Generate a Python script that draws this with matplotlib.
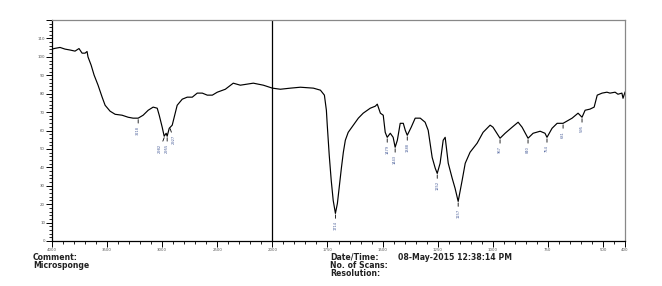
"""FTIR 光谱图 (Microsponge) 复现。"""

import numpy as np
import matplotlib
matplotlib.use("Agg")
import matplotlib.pyplot as plt
from matplotlib.ticker import FixedLocator, NullFormatter

plt.rcParams["font.family"] = ["DejaVu Sans"]

# 光谱数据: 波数 (cm-1) / 透过率 (%T)
WAVENUMBER = [
    4000, 3973, 3927, 3882, 3836, 3791, 3755, 3727, 3700, 3682, 3673, 3645,
    3618, 3582, 3545, 3518, 3473, 3427, 3364, 3309, 3264, 3218, 3173, 3127,
    3082, 3045, 3027, 3000, 2982, 2964, 2955, 2936, 2909, 2891, 2864, 2818,
    2773, 2727, 2682, 2636, 2591, 2545, 2500, 2473, 2427, 2355, 2291, 2173,
    2082, 2000, 1964, 1918, 1873, 1814, 1782, 1764, 1755, 1751, 1742, 1733,
    1724, 1714, 1705, 1696, 1687, 1678, 1669, 1656, 1633, 1610, 1588, 1556,
    1533, 1524, 1510, 1497, 1488, 1479, 1465, 1452, 1443, 1433, 1420, 1406,
    1397, 1388, 1370, 1352, 1329, 1307, 1293, 1275, 1261, 1252, 1239, 1225,
    1216, 1202, 1184, 1171, 1157, 1139, 1125, 1103, 1071, 1044, 1012, 999,
    967, 944, 912, 885, 867, 840, 817, 785, 763, 754, 731, 708, 681, 640,
    613, 595, 581, 559, 540, 526, 504, 482, 468, 445, 432, 414, 409, 400,
]
TRANSMITTANCE = [
    104.2, 104.6, 105.1, 104.2, 103.7, 103.1, 104.5, 102.0, 102.0, 102.9, 99.9, 95.5,
    90.1, 84.6, 78.1, 73.7, 70.5, 68.8, 68.3, 67.2, 66.7, 66.7, 68.3, 71.0,
    72.7, 72.1, 68.3, 61.8, 56.9, 58.5, 56.9, 61.2, 62.9, 67.2, 73.7, 77.0,
    78.1, 78.1, 80.3, 80.3, 79.2, 79.2, 80.8, 81.4, 82.4, 85.7, 84.6, 85.7,
    84.6, 83.0, 82.4, 83.0, 83.5, 83.0, 81.9, 79.2, 71.0, 62.9, 46.5, 32.9,
    22.0, 15.0, 20.4, 30.2, 39.5, 48.2, 54.7, 59.0, 62.9, 66.7, 69.4, 72.1,
    73.2, 74.3, 69.4, 68.3, 59.0, 56.3, 58.5, 56.3, 50.9, 54.7, 63.9, 63.9,
    60.1, 57.4, 61.8, 66.7, 66.7, 64.5, 60.1, 45.4, 39.5, 36.7, 42.2, 54.7,
    56.3, 42.2, 34.0, 28.6, 21.5, 32.9, 42.2, 48.2, 53.1, 59.0, 62.9, 61.8,
    55.8, 58.5, 61.8, 64.5, 61.8, 55.8, 58.5, 59.6, 58.5, 56.3, 61.2, 63.9, 63.9, 66.7,
    69.4, 67.2, 71.0, 71.6, 72.7, 79.2, 80.3, 80.8, 80.3, 80.8, 79.7, 80.3, 77.5, 80.8,
]

# 标注的吸收峰
PEAKS = [3218, 2982, 2955, 2927, 1714, 1479, 1443, 1388, 1252, 1157, 967, 840, 754, 681, 595]
# 重叠的峰标签横向错开 (points)
PEAK_DX = {2982: -3.0, 2955: 0.0, 2927: 2.5}

X_MAJOR = [4000, 3500, 3000, 2500, 2000, 1750, 1500, 1250, 1000, 750, 500, 400]
Y_MAJOR = list(range(0, 121, 10))

INFO_LEFT = ["Comment:", "Microsponge"]
INFO_RIGHT = ["Date/Time:", "No. of Scans:", "Resolution:"]
DATE_STR = "08-May-2015 12:38:14 PM"


def fwd(w):
    w = np.asarray(w, dtype=float)
    return np.where(w >= 2000, 1000 + (w - 2000) / 2, w - 1000)


def inv(u):
    u = np.asarray(u, dtype=float)
    return np.where(u >= 1000, 2000 + 2 * (u - 1000), u + 1000)


def main() -> None:
    fig = plt.figure(figsize=(6.62, 2.86), dpi=100)
    ax = fig.add_axes([52 / 662, 1 - 241 / 286, 573 / 662, 221 / 286])

    ax.set_xscale("function", functions=(fwd, inv))
    ax.plot(WAVENUMBER, TRANSMITTANCE, color="black", lw=0.85)
    ax.axvline(2000, color="black", lw=0.9)
    ax.set_xlim(4000, 400)
    ax.set_ylim(0, 120)

    # 吸收峰标注
    wn = np.array(WAVENUMBER[::-1], dtype=float)
    tr = np.array(TRANSMITTANCE[::-1], dtype=float)
    for p in PEAKS:
        v = np.interp(p, wn, tr)
        ax.annotate(f"{p}", xy=(p, v - 0.8), xytext=(PEAK_DX.get(p, 0.0), -4.5),
                    textcoords="offset points", rotation=90, ha="center", va="top",
                    fontsize=2.6, color="#4a5f9a",
                    arrowprops=dict(arrowstyle="-", lw=0.6, color="black",
                                    shrinkA=0, shrinkB=0))

    # 坐标轴样式
    for side in ("left", "bottom"):
        ax.spines[side].set_color("black")
        ax.spines[side].set_linewidth(0.9)
    for side in ("top", "right"):
        ax.spines[side].set_color("#888888")
        ax.spines[side].set_linewidth(0.9)

    ax.xaxis.set_major_locator(FixedLocator(X_MAJOR))
    minors = list(range(4000, 2000, -100)) + list(range(2000, 399, -50))
    ax.xaxis.set_minor_locator(FixedLocator(minors))
    ax.xaxis.set_minor_formatter(NullFormatter())
    ax.set_xticklabels([f"{v}" for v in X_MAJOR])
    ax.yaxis.set_major_locator(FixedLocator(Y_MAJOR))
    ax.yaxis.set_minor_locator(FixedLocator(list(range(0, 121, 2))))
    ax.yaxis.set_minor_formatter(NullFormatter())
    ax.set_yticklabels(["" if v == 120 else f"{v}" for v in Y_MAJOR])

    ax.tick_params(which="major", direction="out", length=4.5, width=0.7,
                   labelsize=2.8, labelcolor="#555555", pad=0.5)
    ax.tick_params(which="minor", direction="out", length=2.5, width=0.6)

    # 底部信息 (多行放在同一个文本对象里, 行距压紧)
    txt = dict(fontsize=5.6, fontweight="bold", color="#222222", va="top",
               linespacing=0.92)
    fig.text(33 / 662, 1 - 252.5 / 286, "\n".join(INFO_LEFT), **txt)
    fig.text(330 / 662, 1 - 252.5 / 286, "\n".join(INFO_RIGHT), **txt)
    fig.text(398 / 662, 1 - 252.5 / 286, DATE_STR, **txt)

    fig.savefig("out.png", dpi=100)


if __name__ == "__main__":
    main()
